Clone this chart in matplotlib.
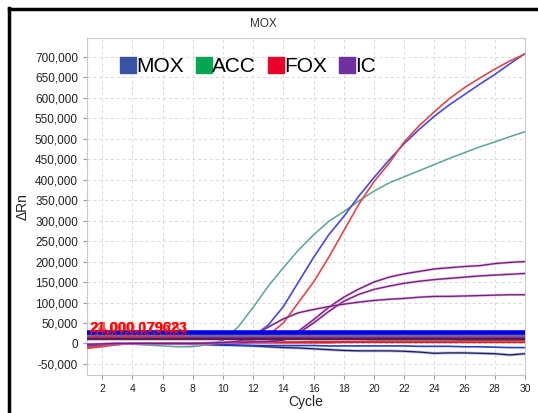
import matplotlib.pyplot as plt
from matplotlib.lines import Line2D

plt.rcParams['font.family'] = ['Liberation Sans', 'DejaVu Sans']

cycles = list(range(1, 31))

# amplification curves (delta Rn)
mox = [-3000, -1000, 0, 0, 0, 0, -1000, -2000, -1000, 0,
       3000, 18000, 45000, 90000, 150000, 210000, 265000, 310000, 360000, 405000,
       448000, 488000, 523000, 555000, 583000, 608000, 633000, 657000, 683000, 708000]
fox = [-12000, -8000, -3000, 0, 0, 0, 0, -1000, 0, 2000,
       5000, 8000, 20000, 50000, 100000, 150000, 210000, 275000, 340000, 395000,
       440000, 492000, 532000, 566000, 598000, 625000, 648000, 670000, 690000, 707000]
acc = [-2000, -1000, 0, -2000, -4000, -6000, -8000, -8000, -3000, 8000,
       40000, 88000, 140000, 185000, 228000, 265000, 298000, 322000, 348000, 372000,
       392000, 407000, 422000, 437000, 452000, 466000, 480000, 492000, 505000, 517000]
ic1 = [-4000, -2000, 0, 0, 0, 0, 0, -1000, 0, 2000,
       3000, 4000, 5000, 10000, 30000, 58000, 88000, 113000, 133000, 150000,
       162000, 170000, 176000, 182000, 185000, 188000, 190000, 195000, 198000, 200000]
ic2 = [-6000, -3000, -1000, 0, 0, 0, 0, 0, 1000, 2000,
       3000, 4000, 4000, 8000, 25000, 50000, 78000, 103000, 120000, 132000,
       140000, 147000, 152000, 156000, 159000, 162000, 165000, 167000, 169000, 171000]
ic3 = [-2000, -1000, 0, 0, 0, 0, 0, 0, 1000, 2000,
       5000, 20000, 40000, 60000, 75000, 83000, 90000, 96000, 101000, 105000,
       108000, 110000, 113000, 115000, 115000, 116000, 117000, 118000, 119000, 119000]

# negative / flat wells
neg1 = [-3000, -2000, -1000, 0, 0, 0, -1000, -2000, -3000, -4000,
        -5000, -6000, -8000, -10000, -11000, -13000, -15000, -17000, -18000, -18000,
        -18000, -19000, -21000, -24000, -23000, -23000, -24000, -25000, -28000, -25000]
neg2 = [-5000, -4000, -2000, -1000, 0, 0, 0, -1000, -2000, -3000,
        -4000, -5000, -5000, -5000, -5000, -5000, -6000, -6000, -6000, -6000,
        -6000, -6000, -7000, -7000, -7000, -8000, -8000, -9000, -10000, -10000]
neg3 = [-8000, -5000, -2000, 0, 1000, 1000, 1000, 2000, 2000, 3000,
        3000, 3000, 4000, 4000, 4000, 5000, 5000, 5000, 5000, 6000,
        6000, 6000, 6000, 6000, 6000, 7000, 7000, 7000, 7000, 7000]
neg4 = [-10000, -6000, -2000, 0, 0, 0, 0, 0, 1000, 1000,
        1000, 2000, 2000, 2000, 2000, 2000, 2000, 3000, 3000, 3000,
        3000, 3000, 3000, 3000, 3000, 3000, 3000, 3000, 3000, 3000]

thresholds = [25000, 19000, 14000, 10000]
threshold_colors = ['#0000ee', '#707088', '#8a2a8a', '#5a1a5a']
threshold_widths = [4.0, 2.5, 2.5, 1.5]

legend_names = ['MOX', 'ACC', 'FOX', 'IC']
legend_colors = ['#3a53a4', '#00a651', '#e8002b', '#7030a0']

fig = plt.figure(figsize=(5.38, 4.13), dpi=100)
ax = fig.add_axes([0.1617, 0.092, 0.8141, 0.816])

ax.grid(True, linestyle=(0, (3, 3)), color='#d8d8d8', linewidth=0.7, zorder=0)

ax.plot(cycles, neg1, color='#6060ff', linewidth=2.0, alpha=0.5, zorder=2)
ax.plot(cycles, neg1, color='#202040', linewidth=0.9, zorder=2)
ax.plot(cycles, neg2, color='#2040c0', linewidth=1.2, zorder=2)
ax.plot(cycles, neg3, color='#a05040', linewidth=1.0, zorder=2)
ax.plot(cycles, neg4, color='#e02020', linewidth=1.4, zorder=2)

ax.plot(cycles, acc, color='#5aa888', linewidth=1.1, zorder=3)
ax.plot(cycles, mox, color='#4848e0', linewidth=1.2, zorder=3)
ax.plot(cycles, fox, color='#e04848', linewidth=1.2, zorder=3)
for y in [ic1, ic2, ic3]:
    ax.plot(cycles, y, color='#d070e0', linewidth=1.8, alpha=0.6, zorder=3)
    ax.plot(cycles, y, color='#702070', linewidth=0.9, zorder=3)

for t, c, w in zip(thresholds, threshold_colors, threshold_widths):
    ax.axhline(t, color=c, linewidth=w, zorder=4)

# threshold value labels drawn on top of each other, as in the instrument export
ax.text(1.15, 30000, '21,000.079623', color='#ff0000', fontsize=10.5, fontweight='bold', zorder=5)
ax.text(1.2, 30000, '24,000.179281', color='#ff0000', fontsize=10.5, fontweight='bold', alpha=0.7, zorder=5)
ax.text(1.15, 15000, '14,000.163318 12,100.0', color='#ff2020', fontsize=6.5, zorder=5)

ax.set_xlim(1, 30)
ax.set_ylim(-77000, 746000)
ax.set_xticks(range(2, 31, 2))
ax.set_yticks(range(-50000, 700001, 50000))
ax.set_yticklabels(['{:,}'.format(v) for v in range(-50000, 700001, 50000)])
ax.tick_params(axis='both', labelsize=8.5, colors='#999999', labelcolor='#222222', length=3)
ax.tick_params(axis='x', labelsize=7.5)
for s in ax.spines.values():
    s.set_color('#c8c8c8')

ax.set_xlabel('Cycle', fontsize=10, color='#222222', labelpad=1)
ax.set_ylabel('ΔRn', fontsize=10, color='#222222')
ax.yaxis.set_label_coords(-0.13, 0.5)
fig.text(0.49, 0.943, 'MOX', fontsize=8.5, color='#333333', ha='center', va='center')

handles = [Line2D([], [], marker='s', linestyle='none', markersize=12,
                  markerfacecolor=c, markeredgecolor=c) for c in legend_colors]
ax.legend(handles, legend_names, ncol=4, frameon=False, fontsize=15,
          loc='upper left', bbox_to_anchor=(0.055, 0.968),
          handlelength=0.8, handletextpad=0.0, columnspacing=0.55, borderaxespad=0)

# black frame on left and top
fig.add_artist(Line2D([0.017, 0.017], [0, 0.98], transform=fig.transFigure, color='black', linewidth=2.5))
fig.add_artist(Line2D([0.017, 1.0], [0.978, 0.978], transform=fig.transFigure, color='black', linewidth=2.5))

fig.savefig('out.png', dpi=100)
